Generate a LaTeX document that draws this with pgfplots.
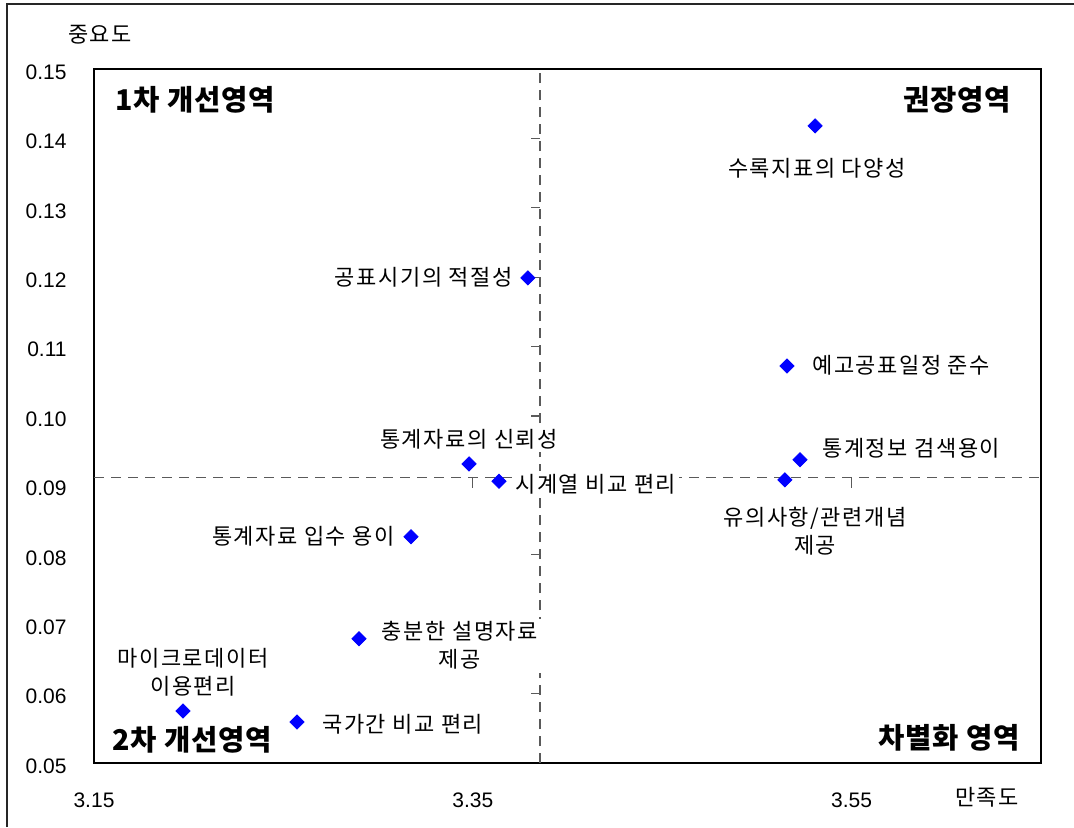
\documentclass[border=0pt]{standalone}
\usepackage{fontspec}
\setmainfont{Liberation Sans}
\newfontfamily\kr[LetterSpace=7]{Noto Sans CJK KR}
\newfontfamily\krz[LetterSpace=3]{Noto Sans CJK KR}
\usepackage{pgfplots}
\pgfplotsset{compat=1.18}
\definecolor{ptblue}{RGB}{0,0,255}
\definecolor{dashgray}{RGB}{90,90,90}
\newcommand{\lab}{\kr\fontsize{11pt}{14pt}\selectfont}
\newcommand{\zone}{\krz\bfseries\fontsize{14.3pt}{16pt}\selectfont}
\tikzset{lbl/.style={inner sep=1.5pt, fill=white, font=\lab, align=center}}

\begin{document}
\begin{tikzpicture}[x=1pt,y=1pt]
\useasboundingbox (-47,-32) rectangle (490,381.5);
\draw[line width=1pt, black!85] (-43.5,-32) -- (-43.5,379.5) -- (490,379.5);
\begin{axis}[
  at={(0,0)}, anchor=south west,
  width=473.5pt, height=347pt, scale only axis,
  xmin=3.15, xmax=3.65, ymin=0.05, ymax=0.15,
  xtick={3.15,3.35,3.55},
  ytick={0.05,0.06,0.07,0.08,0.09,0.10,0.11,0.12,0.13,0.14,0.15},
  /pgf/number format/.cd, fixed, fixed zerofill, precision=2, assume math mode=true,
  /pgfplots/.cd,
  tick style={draw=none},
  axis line style={line width=1pt},
  ticklabel style={font=\fontsize{10.5pt}{12pt}\selectfont, inner sep=0pt},
  xticklabel style={anchor=center, yshift=-18.5pt},
  yticklabel style={anchor=east, xshift=-13.5pt, yshift=-1.5pt},
]
% mean lines
\addplot[dashgray, line width=0.65pt, dash pattern=on 5pt off 3.5pt] coordinates {(3.3855,0.05) (3.3855,0.15)};
\addplot[dashgray, line width=0.65pt, dash pattern=on 5pt off 3.5pt] coordinates {(3.15,0.0911) (3.65,0.0911)};
\pgfplotsinvokeforeach{0.06,0.07,0.08,0.09,0.10,0.11,0.12,0.13,0.14}{
  \draw[dashgray, line width=0.6pt] ([xshift=-4.5pt]axis cs:3.3855,#1) -- (axis cs:3.3855,#1);
}
\pgfplotsinvokeforeach{3.35,3.55}{
  \draw[dashgray, line width=0.6pt] (axis cs:#1,0.0911) -- ([yshift=-5pt]axis cs:#1,0.0911);
}
% labels (white boxes hide the mean lines, as in the original)
\node[lbl] at (axis cs:3.5317,0.1357) {수록지표의 다양성};
\node[lbl, anchor=east] at (axis cs:3.3728,0.1200) {공표시기의 적절성};
\node[lbl, anchor=west] at (axis cs:3.5275,0.1073) {예고공표일정 준수};
\node[lbl, anchor=west] at (axis cs:3.5328,0.0954) {통계정보 검색용이};
\node[lbl] at (axis cs:3.5307,0.0834) {유의사항/관련개념\\제공};
\node[lbl] at (axis cs:3.3480,0.0967) {통계자료의 신뢰성};
\node[lbl, anchor=west] at (axis cs:3.3707,0.0902) {시계열 비교 편리};
\node[lbl, anchor=east] at (axis cs:3.3105,0.0827) {통계자료 입수 용이};
\node[lbl] at (axis cs:3.3432,0.0669) {충분한 설명자료\\제공};
\node[lbl] at (axis cs:3.2023,0.0631) {마이크로데이터\\이용편리};
\node[lbl, anchor=west] at (axis cs:3.2688,0.0556) {국가간 비교 편리};
% items
\addplot[only marks, mark=square*, mark size=2.5pt,
  mark options={rotate=45, fill=ptblue, draw=ptblue}] coordinates {
  (3.5307,0.1418)
  (3.3791,0.1199)
  (3.5159,0.1072)
  (3.5228,0.0937)
  (3.5148,0.0908)
  (3.3480,0.0931)
  (3.3638,0.0906)
  (3.3174,0.0826)
  (3.2899,0.0679)
  (3.1970,0.0575)
  (3.2572,0.0559)
};
% quadrant names
\node[inner sep=0pt, anchor=west, font=\zone] at (rel axis cs:0.022,0.955) {1차 개선영역};
\node[inner sep=0pt, anchor=east, font=\zone] at (rel axis cs:0.969,0.955) {권장영역};
\node[inner sep=0pt, anchor=west, font=\zone] at (rel axis cs:0.019,0.034) {2차 개선영역};
\node[inner sep=0pt, anchor=east, font=\zone] at (rel axis cs:0.978,0.036) {차별화 영역};
\end{axis}
\node[inner sep=0pt, font=\lab] at (3,364) {중요도};
\node[inner sep=0pt, font=\lab] at (446.5,-17) {만족도};
\end{tikzpicture}
\end{document}
